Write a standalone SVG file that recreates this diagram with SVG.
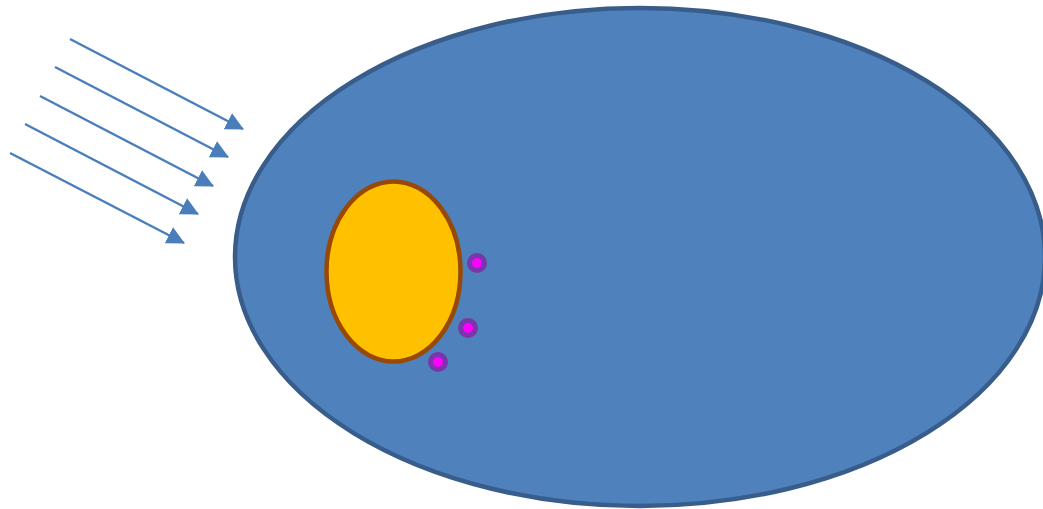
<svg xmlns="http://www.w3.org/2000/svg" width="1043" height="509" viewBox="0 0 1043 509">
<style>
.ray{stroke:#4a7ebb;stroke-width:2.5;fill:none;marker-end:url(#ah)}
.ring{fill:#7a35aa}
.core{fill:#ff00ff}
</style>
<defs>
<marker id="ah" markerUnits="userSpaceOnUse" markerWidth="18" markerHeight="18" refX="17" refY="9" orient="auto" viewBox="0 0 18 18">
<path d="M0,0 L18,9 L0,18 z" fill="#4a7ebb"/>
</marker>
</defs>
<rect width="1043" height="509" fill="#ffffff"/>
<g id="cell">
<ellipse cx="640" cy="257" rx="405" ry="249" fill="#4f81bd" stroke="#385d8a" stroke-width="4.5"/>
</g>
<g id="nucleus">
<ellipse cx="393.5" cy="271.5" rx="67" ry="90" fill="#ffc000" stroke="#984807" stroke-width="4.5"/>
</g>
<g id="dot1"><circle class="ring" cx="477" cy="263" r="10"/><circle class="core" cx="477" cy="263" r="5"/></g>
<g id="dot2"><circle class="ring" cx="468" cy="328" r="10"/><circle class="core" cx="468" cy="328" r="5"/></g>
<g id="dot3"><circle class="ring" cx="438" cy="362" r="10"/><circle class="core" cx="438" cy="362" r="5"/></g>
<g id="connectors">
<line class="ray" x1="70" y1="39" x2="243" y2="129"/>
<line class="ray" x1="55" y1="67" x2="228" y2="157"/>
<line class="ray" x1="40" y1="96" x2="213" y2="186"/>
<line class="ray" x1="25" y1="124" x2="198" y2="214"/>
<line class="ray" x1="10" y1="153" x2="184" y2="243"/>
</g>
</svg>
